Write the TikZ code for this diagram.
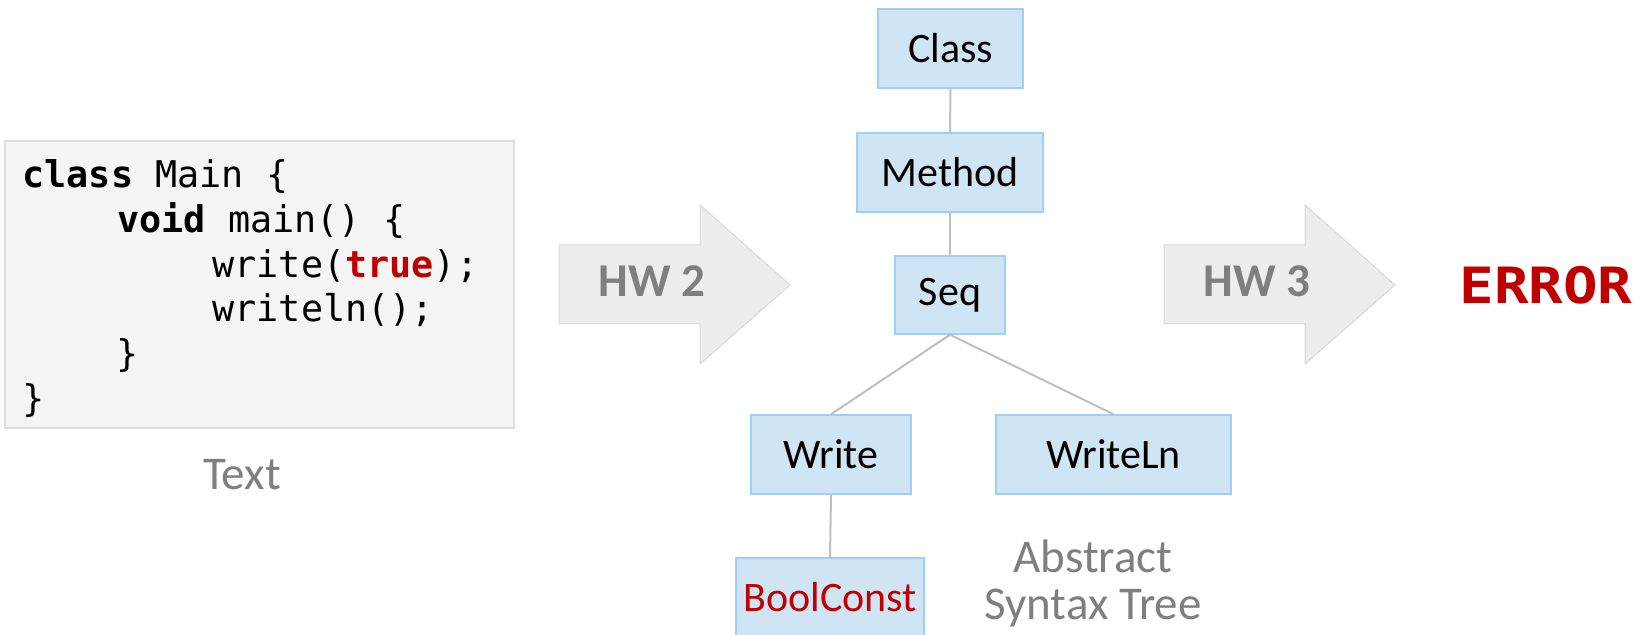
\documentclass[tikz,border=0pt]{standalone}
\usepackage{fontspec}
\setmainfont{Carlito}
\newfontfamily\codefont{DejaVu Sans Mono}
\usetikzlibrary{positioning}

\definecolor{astfill}{HTML}{D0E5F4}
\definecolor{astedge}{HTML}{9DCFF7}
\definecolor{linkgray}{HTML}{BFBFBF}
\definecolor{labelgray}{HTML}{7F7F7F}
\definecolor{errred}{HTML}{C00000}
\definecolor{arrowfill}{HTML}{EDEDED}
\definecolor{arrowedge}{HTML}{D9D9D9}
\definecolor{codefill}{HTML}{F5F5F5}
\definecolor{codeedge}{HTML}{DDDDDD}

\tikzset{
  astnode/.style={draw=astedge, fill=astfill, line width=0.75pt, inner sep=0pt,
    font=\fontsize{21}{24}\selectfont, text=black},
  astlink/.style={draw=linkgray, line width=1pt},
  codeline/.style={anchor=base west, inner sep=0pt, font=\codefont\fontsize{18.4}{22}\selectfont},
  passarrow/.style={fill=arrowfill, draw=arrowedge, line width=0.5pt},
  passlabel/.style={inner sep=0pt, text=labelgray, font=\bfseries\fontsize{23.5}{26}\selectfont},
  caption/.style={inner sep=0pt, text=labelgray, align=center, font=\fontsize{23.5}{23.5}\selectfont}
}

\begin{document}
\begin{tikzpicture}[x=0.5pt, y=-0.5pt]
  \useasboundingbox (0,0) rectangle (1644,635);

  % source program
  \node[draw=codeedge, fill=codefill, line width=0.75pt, minimum width=254.5pt,
        minimum height=143.5pt, inner sep=0pt] (code) at (259.5,284.5) {};
  \node[codeline] (l1) at (22,188)  {\textbf{class} Main \{};
  \node[codeline] (l2) at (117,232.7) {\textbf{void} main() \{};
  \node[codeline] (l3) at (212,277.4) {write(\textcolor{errred}{\textbf{true}});};
  \node[codeline] (l4) at (212,322) {writeln();};
  \node[codeline] (l5) at (116,366.8) {\}};
  \node[codeline] (l6) at (22,411.5) {\}};
  \node[caption] (textlbl) at (242,475) {Text};

  % parser pass
  \path[passarrow] (559,245) -- (700,245) -- (700,205) -- (790,285)
    -- (700,364) -- (700,324) -- (559,324) -- cycle;
  \node[passlabel] (hw2) at (652,281.5) {HW 2};

  % abstract syntax tree
  \node[astnode, minimum width=72.5pt, minimum height=39.5pt] (class) at (950.5,48.5) {Class};
  \node[astnode, minimum width=93pt, minimum height=39.5pt] (method) at (950,172.5) {Method};
  \node[astnode, minimum width=55pt, minimum height=39pt] (seq) at (950,295) {Seq};
  \node[astnode, minimum width=80pt, minimum height=39.5pt] (write) at (831,454.5) {Write};
  \node[astnode, minimum width=117.5pt, minimum height=39.5pt] (writeln) at (1113.5,454.5) {WriteLn};
  \node[astnode, minimum width=94pt, minimum height=39.5pt, text=errred] (bool) at (830,597.5) {BoolConst};

  \draw[astlink] (class.south) -- (method.north);
  \draw[astlink] (method.south) -- (seq.north);
  \draw[astlink] (seq.south) -- (write.north);
  \draw[astlink] (seq.south) -- (writeln.north);
  \draw[astlink] (write.south) -- (bool.north);

  \node[caption] (astlbl) at (1093,583) {Abstract\\Syntax Tree};

  % type-checking pass
  \path[passarrow] (1164,245) -- (1305,245) -- (1305,205) -- (1395,285)
    -- (1305,364) -- (1305,324) -- (1164,324) -- cycle;
  \node[passlabel] (hw3) at (1257,281.5) {HW 3};

  \node[inner sep=0pt, text=errred, font=\codefont\bfseries\fontsize{25}{28}\selectfont]
    (err) at (1546,285) {\scalebox{1.15}[1]{ERROR}};
\end{tikzpicture}
\end{document}
